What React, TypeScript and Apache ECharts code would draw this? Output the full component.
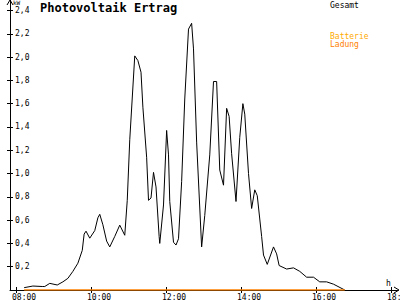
import React, { useEffect, useRef } from "react";
import * as echarts from "echarts";

const times = [
  "08:13", "08:27", "08:42", "08:46", "08:54", "09:06", "09:15", "09:23", "09:31", "09:39",
  "09:46", "09:49", "09:52", "09:58", "10:06", "10:11", "10:14", "10:19", "10:25", "10:30",
  "10:38", "10:46", "10:54", "10:58", "11:02", "11:10", "11:15", "11:20", "11:23", "11:29",
  "11:32", "11:36", "11:40", "11:44", "11:49", "11:50", "11:56", "12:01", "12:04", "12:06",
  "12:12", "12:16", "12:20", "12:25", "12:30", "12:36", "12:41", "12:44", "12:49", "12:57",
  "13:02", "13:10", "13:16", "13:21", "13:26", "13:32", "13:37", "13:41", "13:45", "13:52",
  "13:58", "14:03", "14:06", "14:12", "14:17", "14:22", "14:26", "14:33", "14:36", "14:42",
  "14:52", "14:57", "15:01", "15:13", "15:24", "15:34", "15:45", "15:56", "16:06", "16:17",
  "16:28", "16:46",
];
const gesamt = [
  0.02, 0.034, 0.03, 0.03, 0.057, 0.043, 0.07, 0.1, 0.16, 0.23,
  0.34, 0.48, 0.505, 0.445, 0.51, 0.62, 0.65, 0.56, 0.42, 0.37,
  0.46, 0.557, 0.47, 0.77, 1.29, 2.01, 1.97, 1.87, 1.57, 1.14,
  0.77, 0.79, 1.01, 0.885, 0.46, 0.4, 0.73, 1.37, 1.16, 0.76,
  0.41, 0.386, 0.44, 0.93, 1.64, 2.24, 2.29, 2.07, 1.27, 0.37,
  0.64, 1.16, 1.79, 1.79, 1.03, 0.9, 1.56, 1.49, 1.17, 0.76,
  1.31, 1.6, 1.51, 1.0, 0.7, 0.86, 0.81, 0.46, 0.3, 0.22,
  0.37, 0.31, 0.21, 0.18, 0.19, 0.16, 0.11, 0.11, 0.07, 0.07,
  0.05, 0.0,
];
const ladungTimes = ["08:13", "16:46"];
const ladung = [0, 0];
const xTickLabels = ["08:00", "10:00", "12:00", "14:00", "16:00", "18:00"];
const yTicks = [0.2, 0.4, 0.6, 0.8, 1.0, 1.2, 1.4, 1.6, 1.8, 2.0, 2.2, 2.4];

const toMin = (s: string) => {
  const [h, m] = s.split(":").map(Number);
  return h * 60 + m;
};
const pad = (n: number) => (n < 10 ? "0" + n : "" + n);
const fmtMin = (v: number) => pad(Math.floor(v / 60)) + ":" + pad(Math.round(v % 60));

const FONT = "DejaVu Sans Mono";

export default function App() {
  const ref = useRef<HTMLDivElement>(null);
  useEffect(() => {
    if (!ref.current) return;
    const chart = echarts.init(ref.current, undefined, { renderer: "svg" });
    const xTicks = xTickLabels.map(toMin);
    const xMin = 470.4;
    const xMax = 1091.2;
    const shift = 6.4;
    const lineStyle = { color: "#000", width: 1 };
    chart.setOption({
      animation: false,
      backgroundColor: "#fff",
      grid: { left: 10, right: 2, top: 0, bottom: 10, containLabel: false, outerBoundsMode: "none" },
      xAxis: [
        {
          type: "value", min: xMin, max: xMax, position: "bottom",
          axisLine: { show: true, onZero: false, lineStyle },
          axisTick: { show: true, length: 3, customValues: xTicks, lineStyle },
          axisLabel: { show: false },
          splitLine: { show: false },
        },
        {
          type: "value", min: xMin, max: xMax, position: "bottom",
          axisLine: { show: false, onZero: false },
          axisTick: { show: true, inside: true, length: 3, customValues: xTicks, lineStyle },
          axisLabel: { show: false },
          splitLine: { show: false },
        },
        {
          type: "value", min: xMin + shift, max: xMax + shift, position: "bottom",
          axisLine: { show: false, onZero: false },
          axisTick: { show: false },
          axisLabel: {
            show: true, customValues: xTicks, align: "left", margin: 3,
            formatter: (v: number) => fmtMin(v),
            fontFamily: FONT, fontSize: 8, color: "#000",
            showMinLabel: true, showMaxLabel: true, hideOverlap: false,
          },
          splitLine: { show: false },
        },
      ],
      yAxis: [
        {
          type: "value", min: 0, max: 2.49, position: "left",
          axisLine: { show: true, onZero: false, lineStyle },
          axisTick: { show: true, length: 3, customValues: yTicks, lineStyle },
          axisLabel: { show: false },
          splitLine: { show: false },
        },
        {
          type: "value", min: 0, max: 2.49, position: "left",
          axisLine: { show: false, onZero: false },
          axisTick: { show: true, inside: true, length: 3, customValues: yTicks, lineStyle },
          axisLabel: {
            show: true, inside: true, margin: 5, customValues: yTicks,
            formatter: (v: number) => v.toFixed(1).replace(".", ","),
            fontFamily: FONT, fontSize: 8, color: "#000",
          },
          splitLine: { show: false },
        },
      ],
      series: [
        {
          name: "Gesamt", type: "line", xAxisIndex: 0, yAxisIndex: 0,
          data: times.map((t, i) => [toMin(t), gesamt[i]]),
          showSymbol: false, symbol: "none",
          lineStyle: { color: "#000", width: 1 },
          z: 3,
        },
        {
          name: "Ladung", type: "line", xAxisIndex: 0, yAxisIndex: 0,
          data: ladungTimes.map((t, i) => [toMin(t), ladung[i]]),
          showSymbol: false, symbol: "none",
          lineStyle: { color: "#ff8000", width: 1.5 },
          z: 4,
        },
      ],
      graphic: [
        { type: "polyline", shape: { points: [[7, 5], [10, 0], [13, 5]] }, style: { stroke: "#000", fill: "none", lineWidth: 1 } },
        { type: "polyline", shape: { points: [[394, 287], [399, 290], [394, 293]] }, style: { stroke: "#000", fill: "none", lineWidth: 1 } },
        { type: "text", x: 13, y: -1, style: { text: "kW", font: `6px "${FONT}"`, fill: "#000" } },
        { type: "text", x: 386, y: 279, style: { text: "h", font: `8px "${FONT}"`, fill: "#000" } },
        { type: "text", x: 40, y: 2, style: { text: "Photovoltaik Ertrag", font: `bold 12px "${FONT}"`, fill: "#000" } },
        { type: "text", x: 330, y: 1, style: { text: "Gesamt", font: `8px "${FONT}"`, fill: "#000" } },
        { type: "text", x: 330, y: 32, style: { text: "Batterie", font: `8px "${FONT}"`, fill: "#ffaa00" } },
        { type: "text", x: 330, y: 40, style: { text: "Ladung", font: `8px "${FONT}"`, fill: "#ff8000" } },
      ],
    });
    return () => chart.dispose();
  }, []);
  return (
    <div
      ref={ref}
      style={{ position: "fixed", left: 0, top: 0, width: 400, height: 300, background: "#fff" }}
    />
  );
}
